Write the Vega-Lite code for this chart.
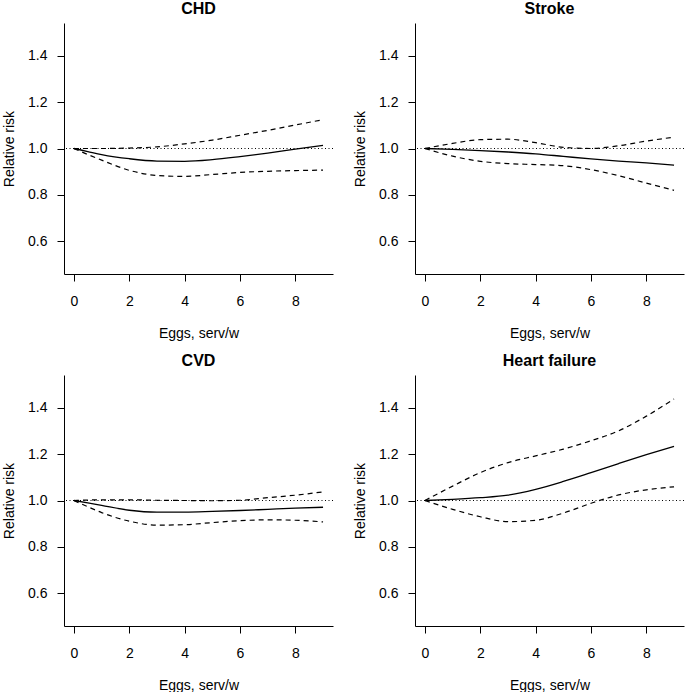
{
  "$schema": "https://vega.github.io/schema/vega-lite/v6.json",
  "padding": {"left": 2, "top": 1, "right": 0, "bottom": 0},
  "background": "white",
  "datasets": {
    "curves": [
      {"o": "CHD", "x": 0, "est": 1.0, "lo": 1.0, "hi": 1.0},
      {"o": "CHD", "x": 0.5, "est": 0.987, "lo": 0.974, "hi": 1.0},
      {"o": "CHD", "x": 1, "est": 0.974, "lo": 0.95, "hi": 1.0},
      {"o": "CHD", "x": 2, "est": 0.956, "lo": 0.906, "hi": 1.002},
      {"o": "CHD", "x": 3, "est": 0.946, "lo": 0.884, "hi": 1.007},
      {"o": "CHD", "x": 4, "est": 0.945, "lo": 0.88, "hi": 1.02},
      {"o": "CHD", "x": 5, "est": 0.952, "lo": 0.888, "hi": 1.036},
      {"o": "CHD", "x": 6, "est": 0.965, "lo": 0.897, "hi": 1.057},
      {"o": "CHD", "x": 7, "est": 0.98, "lo": 0.902, "hi": 1.078},
      {"o": "CHD", "x": 8, "est": 0.997, "lo": 0.905, "hi": 1.101},
      {"o": "CHD", "x": 9, "est": 1.013, "lo": 0.907, "hi": 1.124},
      {"o": "Stroke", "x": 0, "est": 1.0, "lo": 1.0, "hi": 1.0},
      {"o": "Stroke", "x": 1, "est": 0.996, "lo": 0.967, "hi": 1.022},
      {"o": "Stroke", "x": 2, "est": 0.991, "lo": 0.945, "hi": 1.038},
      {"o": "Stroke", "x": 3, "est": 0.985, "lo": 0.935, "hi": 1.04},
      {"o": "Stroke", "x": 4, "est": 0.977, "lo": 0.931, "hi": 1.025},
      {"o": "Stroke", "x": 5, "est": 0.966, "lo": 0.926, "hi": 1.005},
      {"o": "Stroke", "x": 6, "est": 0.955, "lo": 0.909, "hi": 1.0},
      {"o": "Stroke", "x": 7, "est": 0.946, "lo": 0.883, "hi": 1.012},
      {"o": "Stroke", "x": 8, "est": 0.938, "lo": 0.851, "hi": 1.032},
      {"o": "Stroke", "x": 9, "est": 0.928, "lo": 0.82, "hi": 1.049},
      {"o": "CVD", "x": 0, "est": 1.0, "lo": 1.0, "hi": 1.0},
      {"o": "CVD", "x": 0.5, "est": 0.99, "lo": 0.973, "hi": 1.002},
      {"o": "CVD", "x": 1, "est": 0.979, "lo": 0.948, "hi": 1.003},
      {"o": "CVD", "x": 2, "est": 0.958, "lo": 0.911, "hi": 1.003},
      {"o": "CVD", "x": 3, "est": 0.95, "lo": 0.894, "hi": 1.001},
      {"o": "CVD", "x": 4, "est": 0.95, "lo": 0.896, "hi": 1.0},
      {"o": "CVD", "x": 5, "est": 0.953, "lo": 0.905, "hi": 0.999},
      {"o": "CVD", "x": 6, "est": 0.957, "lo": 0.913, "hi": 1.001},
      {"o": "CVD", "x": 7, "est": 0.962, "lo": 0.917, "hi": 1.012},
      {"o": "CVD", "x": 8, "est": 0.967, "lo": 0.915, "hi": 1.023},
      {"o": "CVD", "x": 9, "est": 0.971, "lo": 0.908, "hi": 1.037},
      {"o": "Heart failure", "x": 0, "est": 1.0, "lo": 1.0, "hi": 1.0},
      {"o": "Heart failure", "x": 1, "est": 1.005, "lo": 0.962, "hi": 1.062},
      {"o": "Heart failure", "x": 2, "est": 1.012, "lo": 0.93, "hi": 1.12},
      {"o": "Heart failure", "x": 3, "est": 1.023, "lo": 0.909, "hi": 1.163},
      {"o": "Heart failure", "x": 4, "est": 1.048, "lo": 0.915, "hi": 1.192},
      {"o": "Heart failure", "x": 5, "est": 1.082, "lo": 0.946, "hi": 1.221},
      {"o": "Heart failure", "x": 6, "est": 1.12, "lo": 0.988, "hi": 1.257},
      {"o": "Heart failure", "x": 7, "est": 1.159, "lo": 1.024, "hi": 1.3},
      {"o": "Heart failure", "x": 8, "est": 1.197, "lo": 1.046, "hi": 1.363},
      {"o": "Heart failure", "x": 9, "est": 1.233, "lo": 1.059, "hi": 1.437}
    ],
    "ref": [{"r": 1}]
  },
  "columns": 2,
  "bounds": "flush",
  "spacing": {"row": 101, "column": 82},
  "concat": [
    {
      "title": "CHD", "width": 269, "height": 251,
      "layer": [
        {"data": {"name": "ref"}, "mark": {"type": "rule", "color": "black", "strokeWidth": 1, "strokeDash": [1, 2.5]},
         "encoding": {"y": {"field": "r", "type": "quantitative", "scale": {"domain": [0.46, 1.54], "nice": false, "zero": false}, "axis": {"title": "Relative risk", "values": [0.6, 0.8, 1.0, 1.2, 1.4], "format": ".1f"}}}},
        {"data": {"name": "curves"}, "transform": [{"filter": "datum.o === 'CHD'"}, {"fold": ["lo", "hi"], "as": ["band", "v"]}],
         "mark": {"type": "line", "color": "black", "strokeWidth": 1.2, "strokeDash": [5, 4], "interpolate": "monotone"},
         "encoding": {"x": {"field": "x", "type": "quantitative", "scale": {"domain": [-0.36, 9.36], "nice": false, "zero": false}, "axis": {"title": "Eggs, serv/w", "values": [0, 2, 4, 6, 8]}},
                      "y": {"field": "v", "type": "quantitative", "axis": {"title": "Relative risk", "values": [0.6, 0.8, 1.0, 1.2, 1.4], "format": ".1f"}}, "detail": {"field": "band"}}},
        {"data": {"name": "curves"}, "transform": [{"filter": "datum.o === 'CHD'"}],
         "mark": {"type": "line", "color": "black", "strokeWidth": 1.3, "interpolate": "monotone"},
         "encoding": {"x": {"field": "x", "type": "quantitative", "axis": {"title": "Eggs, serv/w", "values": [0, 2, 4, 6, 8]}},
                      "y": {"field": "est", "type": "quantitative", "axis": {"title": "Relative risk", "values": [0.6, 0.8, 1.0, 1.2, 1.4], "format": ".1f"}}}}
      ]
    },
    {
      "title": "Stroke", "width": 269, "height": 251,
      "layer": [
        {"data": {"name": "ref"}, "mark": {"type": "rule", "color": "black", "strokeWidth": 1, "strokeDash": [1, 2.5]},
         "encoding": {"y": {"field": "r", "type": "quantitative", "scale": {"domain": [0.46, 1.54], "nice": false, "zero": false}, "axis": {"title": "Relative risk", "values": [0.6, 0.8, 1.0, 1.2, 1.4], "format": ".1f"}}}},
        {"data": {"name": "curves"}, "transform": [{"filter": "datum.o === 'Stroke'"}, {"fold": ["lo", "hi"], "as": ["band", "v"]}],
         "mark": {"type": "line", "color": "black", "strokeWidth": 1.2, "strokeDash": [5, 4], "interpolate": "monotone"},
         "encoding": {"x": {"field": "x", "type": "quantitative", "scale": {"domain": [-0.36, 9.36], "nice": false, "zero": false}, "axis": {"title": "Eggs, serv/w", "values": [0, 2, 4, 6, 8]}},
                      "y": {"field": "v", "type": "quantitative", "axis": {"title": "Relative risk", "values": [0.6, 0.8, 1.0, 1.2, 1.4], "format": ".1f"}}, "detail": {"field": "band"}}},
        {"data": {"name": "curves"}, "transform": [{"filter": "datum.o === 'Stroke'"}],
         "mark": {"type": "line", "color": "black", "strokeWidth": 1.3, "interpolate": "monotone"},
         "encoding": {"x": {"field": "x", "type": "quantitative", "axis": {"title": "Eggs, serv/w", "values": [0, 2, 4, 6, 8]}},
                      "y": {"field": "est", "type": "quantitative", "axis": {"title": "Relative risk", "values": [0.6, 0.8, 1.0, 1.2, 1.4], "format": ".1f"}}}}
      ]
    },
    {
      "title": "CVD", "width": 269, "height": 251,
      "layer": [
        {"data": {"name": "ref"}, "mark": {"type": "rule", "color": "black", "strokeWidth": 1, "strokeDash": [1, 2.5]},
         "encoding": {"y": {"field": "r", "type": "quantitative", "scale": {"domain": [0.46, 1.54], "nice": false, "zero": false}, "axis": {"title": "Relative risk", "values": [0.6, 0.8, 1.0, 1.2, 1.4], "format": ".1f"}}}},
        {"data": {"name": "curves"}, "transform": [{"filter": "datum.o === 'CVD'"}, {"fold": ["lo", "hi"], "as": ["band", "v"]}],
         "mark": {"type": "line", "color": "black", "strokeWidth": 1.2, "strokeDash": [5, 4], "interpolate": "monotone"},
         "encoding": {"x": {"field": "x", "type": "quantitative", "scale": {"domain": [-0.36, 9.36], "nice": false, "zero": false}, "axis": {"title": "Eggs, serv/w", "values": [0, 2, 4, 6, 8]}},
                      "y": {"field": "v", "type": "quantitative", "axis": {"title": "Relative risk", "values": [0.6, 0.8, 1.0, 1.2, 1.4], "format": ".1f"}}, "detail": {"field": "band"}}},
        {"data": {"name": "curves"}, "transform": [{"filter": "datum.o === 'CVD'"}],
         "mark": {"type": "line", "color": "black", "strokeWidth": 1.3, "interpolate": "monotone"},
         "encoding": {"x": {"field": "x", "type": "quantitative", "axis": {"title": "Eggs, serv/w", "values": [0, 2, 4, 6, 8]}},
                      "y": {"field": "est", "type": "quantitative", "axis": {"title": "Relative risk", "values": [0.6, 0.8, 1.0, 1.2, 1.4], "format": ".1f"}}}}
      ]
    },
    {
      "title": "Heart failure", "width": 269, "height": 251,
      "layer": [
        {"data": {"name": "ref"}, "mark": {"type": "rule", "color": "black", "strokeWidth": 1, "strokeDash": [1, 2.5]},
         "encoding": {"y": {"field": "r", "type": "quantitative", "scale": {"domain": [0.46, 1.54], "nice": false, "zero": false}, "axis": {"title": "Relative risk", "values": [0.6, 0.8, 1.0, 1.2, 1.4], "format": ".1f"}}}},
        {"data": {"name": "curves"}, "transform": [{"filter": "datum.o === 'Heart failure'"}, {"fold": ["lo", "hi"], "as": ["band", "v"]}],
         "mark": {"type": "line", "color": "black", "strokeWidth": 1.2, "strokeDash": [5, 4], "interpolate": "monotone"},
         "encoding": {"x": {"field": "x", "type": "quantitative", "scale": {"domain": [-0.36, 9.36], "nice": false, "zero": false}, "axis": {"title": "Eggs, serv/w", "values": [0, 2, 4, 6, 8]}},
                      "y": {"field": "v", "type": "quantitative", "axis": {"title": "Relative risk", "values": [0.6, 0.8, 1.0, 1.2, 1.4], "format": ".1f"}}, "detail": {"field": "band"}}},
        {"data": {"name": "curves"}, "transform": [{"filter": "datum.o === 'Heart failure'"}],
         "mark": {"type": "line", "color": "black", "strokeWidth": 1.3, "interpolate": "monotone"},
         "encoding": {"x": {"field": "x", "type": "quantitative", "axis": {"title": "Eggs, serv/w", "values": [0, 2, 4, 6, 8]}},
                      "y": {"field": "est", "type": "quantitative", "axis": {"title": "Relative risk", "values": [0.6, 0.8, 1.0, 1.2, 1.4], "format": ".1f"}}}}
      ]
    }
  ],
  "config": {
    "view": {"stroke": null},
    "font": "Liberation Sans",
    "axis": {"grid": false, "domainColor": "black", "tickColor": "black", "labelColor": "black", "titleColor": "black",
             "labelFontSize": 14, "titleFontSize": 14, "titleFontWeight": "normal", "tickSize": 7, "domainWidth": 1, "tickWidth": 1},
    "axisY": {"labelPadding": 10, "titlePadding": 11, "labelAngle": 0},
    "axisX": {"labelPadding": 13, "titlePadding": 18},
    "title": {"fontSize": 16, "fontWeight": "bold", "anchor": "middle", "offset": 6, "color": "black"}
  }
}
